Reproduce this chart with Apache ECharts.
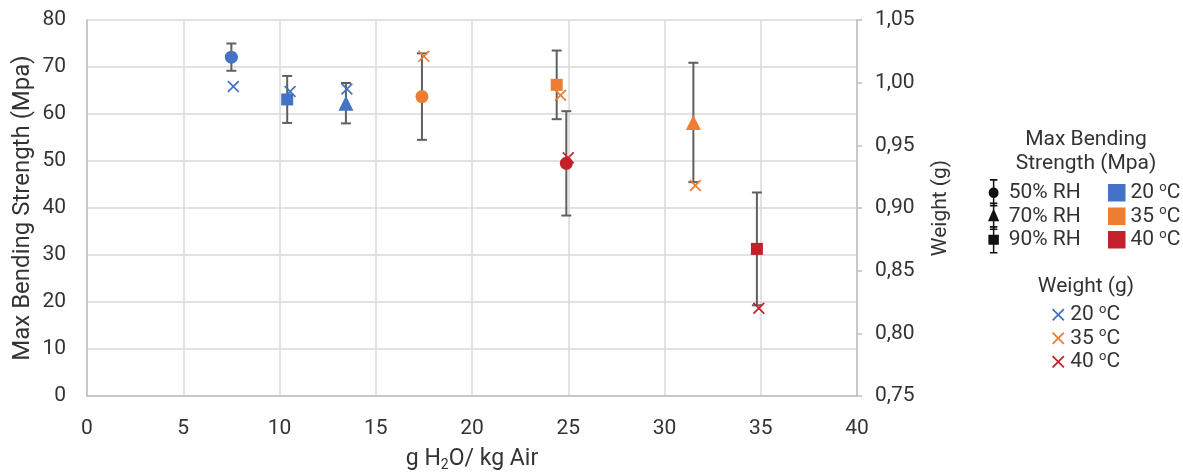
<!DOCTYPE html>
<html>
<head>
<meta charset="utf-8">
<script src="https://cdn.jsdelivr.net/npm/echarts@6/dist/echarts.min.js"></script>
<style>html,body{margin:0;padding:0;background:#fff}#c{width:1183px;height:473px}</style>
</head>
<body>
<div id="c"></div>
<script>
// ---- data ----
const xTicks = [0, 5, 10, 15, 20, 25, 30, 35, 40];
const leftTicks = [0, 10, 20, 30, 40, 50, 60, 70, 80];
const rightTicks = ['0,75', '0,80', '0,85', '0,90', '0,95', '1,00', '1,05'];
const rhNames = ['50% RH', '70% RH', '90% RH'];
const tempNames = ['20', '35', '40'];

// Max bending strength (MPa) per RH level
const x50 = [7.5, 17.4, 24.9];
const bend50 = [72.1, 63.7, 49.5];
const err50 = [2.9, 9.2, 11.1];
const temp50 = ['20', '35', '40'];

const x70 = [13.45, 31.5];
const bend70 = [62.3, 58.2];
const err70 = [4.3, 12.7];
const temp70 = ['20', '35'];

const x90 = [10.4, 24.4, 34.8];
const bend90 = [63.1, 66.2, 31.3];
const err90 = [5.0, 7.3, 12.0];
const temp90 = ['20', '35', '40'];

// Weight (g) per temperature
const wx20 = [7.6, 10.55, 13.5];
const w20 = [0.997, 0.993, 0.995];
const wx35 = [17.5, 24.6, 31.6];
const w35 = [1.021, 0.990, 0.918];
const wx40 = [25.0, 34.9];
const w40 = [0.940, 0.820];

// ---- styles ----
const COLORS = { '20': '#4472C4', '35': '#ED7D31', '40': '#C4202A' };
const TXT = '#333333';
const FONT = 'Roboto';
const GRIDC = '#d9d9d9';
const AXC = '#bfbfbf';
const ERRC = '#5f5f5f';
const XSYM = 'path://M0,1 L1,0 L5,4 L9,0 L10,1 L6,5 L10,9 L9,10 L5,6 L1,10 L0,9 L4,5 Z';
const ICON_CIRCLE = 'path://M3,0 L9,0 L9,1.3 L6.6,1.3 L6.6,6.8 A4.3,4.3 0 0 1 6.6,15.2 L6.6,20.7 L9,20.7 L9,22 L3,22 L3,20.7 L5.4,20.7 L5.4,15.2 A4.3,4.3 0 0 1 5.4,6.8 L5.4,1.3 L3,1.3 Z';
const ICON_TRI = 'path://M3,0 L9,0 L9,1.3 L6.6,1.3 L6.6,6 L10.5,15 L6.6,15 L6.6,20.7 L9,20.7 L9,22 L3,22 L3,20.7 L5.4,20.7 L5.4,15 L1.5,15 L5.4,6 L5.4,1.3 L3,1.3 Z';
const ICON_SQ = 'path://M3,0 L9,0 L9,1.3 L6.6,1.3 L6.6,7 L10.2,7 L10.2,15 L6.6,15 L6.6,20.7 L9,20.7 L9,22 L3,22 L3,20.7 L5.4,20.7 L5.4,15 L1.8,15 L1.8,7 L5.4,7 L5.4,1.3 L3,1.3 Z';

function pts(xs, ys, temps) {
  return xs.map((x, i) => ({ value: [x, ys[i]], itemStyle: { color: COLORS[temps[i]], opacity: 1 } }));
}
function errs(xs, ys, es) {
  return xs.map((x, i) => [x, ys[i] - es[i], ys[i] + es[i]]);
}
const errData = [].concat(errs(x50, bend50, err50), errs(x70, bend70, err70), errs(x90, bend90, err90));

const LEG_FS = 21;
const LEG_LH = 23.5;
const degRich = {
  t: { fontFamily: FONT, fontSize: LEG_FS, color: TXT, lineHeight: LEG_LH },
  s: { fontFamily: FONT, fontSize: 13, color: TXT, lineHeight: 15, verticalAlign: 'top' }
};
function degLabel(name) {
  const t = name.replace(/^[wc]/, '');
  return '{t|' + t + ' }{s|o}{t|C}';
}

const chart = echarts.init(document.getElementById('c'), null, { renderer: 'canvas' });
chart.setOption({
  animation: false,
  backgroundColor: '#fff',
  textStyle: { fontFamily: FONT, color: TXT },
  grid: { left: 87, right: 326, top: 20, bottom: 77, containLabel: false, outerBoundsMode: 'none' },
  title: [
    { text: 'Max Bending\nStrength (Mpa)', left: 1081, top: 123, textAlign: 'center',
      textStyle: { fontFamily: FONT, fontSize: LEG_FS, fontWeight: 'normal', color: TXT, lineHeight: 23.5 } },
    { text: 'Weight (g)', left: 1081, top: 270, textAlign: 'center',
      textStyle: { fontFamily: FONT, fontSize: LEG_FS, fontWeight: 'normal', color: TXT, lineHeight: 23.5 } }
  ],
  legend: [
    { orient: 'vertical', left: 983, top: 174, itemWidth: 20, itemHeight: 27.5, itemGap: -4,
      textStyle: { fontFamily: FONT, fontSize: LEG_FS, color: TXT, lineHeight: LEG_LH },
      data: [
        { name: rhNames[0], icon: ICON_CIRCLE, itemStyle: { color: '#111' } },
        { name: rhNames[1], icon: ICON_TRI, itemStyle: { color: '#111' } },
        { name: rhNames[2], icon: ICON_SQ, itemStyle: { color: '#111' } }
      ], selectedMode: false },
    { orient: 'vertical', left: 1103, top: 176, itemWidth: 17.5, itemHeight: 17.5, itemGap: 0,
      formatter: degLabel, textStyle: { rich: degRich, lineHeight: LEG_LH },
      data: tempNames.map(t => ({ name: 'c' + t, icon: 'rect' })), selectedMode: false },
    { orient: 'vertical', left: 1047, top: 298, itemWidth: 14, itemHeight: 12.5, itemGap: 0,
      formatter: degLabel, textStyle: { rich: degRich, lineHeight: LEG_LH },
      data: tempNames.map(t => ({ name: 'w' + t, icon: XSYM })), selectedMode: false }
  ],
  xAxis: {
    type: 'value', min: xTicks[0], max: xTicks[xTicks.length - 1], interval: 5,
    axisLine: { show: true, lineStyle: { color: AXC, width: 1.5 } },
    axisTick: { show: false },
    splitLine: { show: true, lineStyle: { color: GRIDC, width: 1.5 } },
    axisLabel: { fontFamily: FONT, fontSize: 21, color: TXT, margin: 22 },
    name: '{a|g H}{b|2}{a|O/ kg Air}', nameLocation: 'middle', nameGap: 50,
    nameTextStyle: { rich: {
      a: { fontFamily: FONT, fontSize: 23, color: TXT, lineHeight: 26 },
      b: { fontFamily: FONT, fontSize: 14, color: TXT, lineHeight: 15, verticalAlign: 'bottom' } } }
  },
  yAxis: [
    { type: 'value', min: leftTicks[0], max: leftTicks[leftTicks.length - 1], interval: 10, position: 'left',
      axisLine: { show: true, lineStyle: { color: AXC, width: 1.5 } },
      axisTick: { show: false },
      splitLine: { show: true, lineStyle: { color: GRIDC, width: 1.5 } },
      axisLabel: { fontFamily: FONT, fontSize: 21, color: TXT, margin: 21 },
      name: 'Max Bending Strength (Mpa)', nameLocation: 'middle', nameGap: 52, nameRotate: 90,
      nameMoveOverlap: false,
      nameTextStyle: { fontFamily: FONT, fontSize: 24, color: TXT } },
    { type: 'value', min: 0.75, max: 1.05, interval: 0.05, position: 'right',
      axisLine: { show: true, lineStyle: { color: AXC, width: 1.5 } },
      axisTick: { show: true, length: 5, inside: false, lineStyle: { color: AXC, width: 1.5 } },
      splitLine: { show: false },
      axisLabel: { fontFamily: FONT, fontSize: 21, color: TXT, margin: 18,
        formatter: (v) => rightTicks[Math.round((v - 0.75) / 0.05)] },
      name: 'Weight (g)', nameLocation: 'middle', nameGap: 73, nameRotate: 90,
      nameMoveOverlap: false,
      nameTextStyle: { fontFamily: FONT, fontSize: 21, color: TXT } }
  ],
  series: [
    { type: 'custom', name: 'err', z: 1, yAxisIndex: 0, data: errData, silent: true,
      renderItem: function (params, api) {
        const x = api.value(0);
        const lo = api.coord([x, api.value(1)]);
        const hi = api.coord([x, api.value(2)]);
        const hw = 5;
        const st = { stroke: ERRC, lineWidth: 2 };
        return { type: 'group', children: [
          { type: 'line', shape: { x1: lo[0], y1: lo[1], x2: hi[0], y2: hi[1] }, style: st },
          { type: 'line', shape: { x1: lo[0] - hw, y1: lo[1], x2: lo[0] + hw, y2: lo[1] }, style: st },
          { type: 'line', shape: { x1: hi[0] - hw, y1: hi[1], x2: hi[0] + hw, y2: hi[1] }, style: st }
        ] };
      } },
    { type: 'scatter', name: rhNames[0], symbol: 'circle', symbolSize: 13, z: 3, data: pts(x50, bend50, temp50), itemStyle: { color: '#111', opacity: 1 } },
    { type: 'scatter', name: rhNames[1], symbol: 'triangle', symbolSize: 15, z: 3, data: pts(x70, bend70, temp70), itemStyle: { color: '#111', opacity: 1 } },
    { type: 'scatter', name: rhNames[2], symbol: 'rect', symbolSize: 12, z: 3, data: pts(x90, bend90, temp90), itemStyle: { color: '#111', opacity: 1 } },
    { type: 'scatter', name: 'c20', data: [], itemStyle: { color: COLORS['20'], opacity: 1 } },
    { type: 'scatter', name: 'c35', data: [], itemStyle: { color: COLORS['35'], opacity: 1 } },
    { type: 'scatter', name: 'c40', data: [], itemStyle: { color: COLORS['40'], opacity: 1 } },
    { type: 'scatter', name: 'w20', yAxisIndex: 1, symbol: XSYM, symbolSize: 12, z: 4, data: wx20.map((x, i) => [x, w20[i]]), itemStyle: { color: COLORS['20'], opacity: 1 } },
    { type: 'scatter', name: 'w35', yAxisIndex: 1, symbol: XSYM, symbolSize: 12, z: 4, data: wx35.map((x, i) => [x, w35[i]]), itemStyle: { color: COLORS['35'], opacity: 1 } },
    { type: 'scatter', name: 'w40', yAxisIndex: 1, symbol: XSYM, symbolSize: 12, z: 4, data: wx40.map((x, i) => [x, w40[i]]), itemStyle: { color: COLORS['40'], opacity: 1 } }
  ]
});
</script>
</body>
</html>
